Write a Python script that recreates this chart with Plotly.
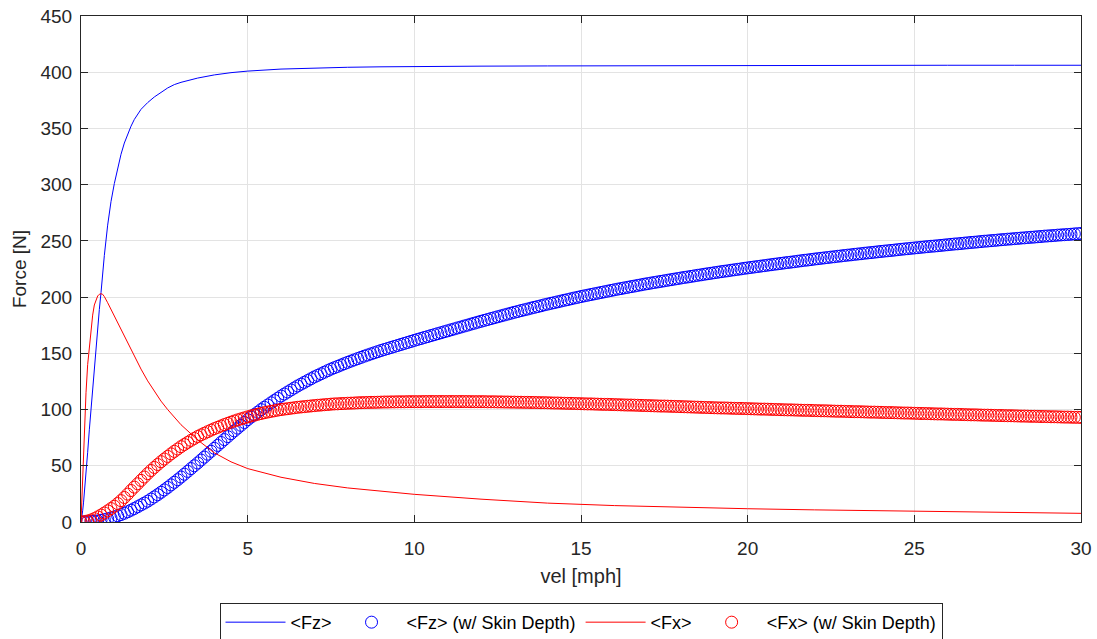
import plotly.graph_objects as go

# ---- data ----
# smooth model curves (no skin depth)
vel_line = [0, 0.025, 0.05, 0.075, 0.1, 0.15, 0.2, 0.25, 0.3, 0.35, 0.4, 0.45, 0.5, 0.55, 0.6, 0.65,
            0.7, 0.8, 0.9, 1.0, 1.1, 1.2, 1.3, 1.4, 1.5, 1.6, 1.8, 2.0, 2.2, 2.4, 2.6, 2.8, 3.0,
            3.5, 4.0, 4.5, 5.0, 6.0, 7.0, 8.0, 9.0, 10.0, 12.0, 14.0, 16.0, 18.0, 20.0, 22.0,
            24.0, 26.0, 28.0, 30.0]
fz_line = [0, 4, 10, 17, 25, 42, 62, 82, 101, 120, 139, 156, 173, 189, 204, 221,
           237, 264, 285, 301, 315, 327, 337, 345, 352, 358, 367, 373, 378, 382, 386, 389, 391,
           394.8, 397.6, 399.6, 401.0, 402.8, 403.8, 404.4, 404.8, 405.1, 405.4, 405.6, 405.8, 405.9, 406.0, 406.1,
           406.1, 406.2, 406.2, 406.2]
fx_line = [0, 22, 40, 60, 80, 115, 140, 157, 172, 184, 193, 198, 201, 202.5, 203, 202.5,
           200.5, 195, 189, 183, 177, 171, 165, 159, 153, 147, 136, 125.5, 116, 107.5, 100, 93, 86.5,
           73, 61.5, 53.5, 47.5, 39.8, 34.3, 30.3, 27.2, 24.6, 20.3, 16.8, 14.6, 13.0, 11.8, 10.8,
           9.9, 9.1, 8.4, 7.7]

# skin-depth results, sampled every 0.1 mph from 0 to 30
vel_sd = [round(i * 0.1, 1) for i in range(301)]
fz_sd = [
    0, 0.1, 0.2, 0.4, 0.7, 1.0,
    1.5, 2.1, 2.8, 3.6, 4.5,
    5.5, 6.6, 7.8, 9.1, 10.5,
    12.0, 13.6, 15.2, 16.8, 18.5,
    20.4, 22.3, 24.3, 26.4, 28.5,
    30.7, 33.0, 35.3, 37.6, 40.0,
    42.5, 45.0, 47.5, 50.0, 52.5,
    55.1, 57.7, 60.3, 62.9, 65.5,
    68.1, 70.7, 73.3, 75.9, 78.5,
    81.0, 83.5, 86.0, 88.5, 91.0,
    93.3, 95.5, 97.7, 99.9, 102.0,
    104.0, 106.0, 108.0, 110.0, 112.0,
    113.8, 115.6, 117.4, 119.2, 121.0,
    122.6, 124.2, 125.8, 127.4, 129.0,
    130.4, 131.8, 133.2, 134.6, 136.0,
    137.2, 138.4, 139.6, 140.8, 142.0,
    143.1, 144.2, 145.3, 146.4, 147.5,
    148.5, 149.5, 150.5, 151.5, 152.5,
    153.4, 154.3, 155.2, 156.1, 157.0,
    157.9, 158.8, 159.7, 160.6, 161.5,
    162.4, 163.2, 164.1, 164.9, 165.8, 166.6, 167.5, 168.3, 169.2, 170.0,
    170.9, 171.7, 172.6, 173.4, 174.3, 175.1, 176.0, 176.8, 177.7, 178.5,
    179.3, 180.1, 180.9, 181.7, 182.5, 183.3, 184.1, 184.9, 185.7, 186.5,
    187.2, 188.0, 188.7, 189.4, 190.2, 190.9, 191.6, 192.3, 193.1, 193.8,
    194.5, 195.1, 195.8, 196.5, 197.2, 197.8, 198.5, 199.2, 199.8, 200.5,
    201.1, 201.7, 202.3, 202.9, 203.5, 204.1, 204.7, 205.3, 205.9, 206.5,
    207.1, 207.6, 208.2, 208.7, 209.3, 209.8, 210.4, 210.9, 211.5, 212.0,
    212.5, 213.0, 213.5, 214.0, 214.5, 215.0, 215.5, 216.0, 216.5, 217.0,
    217.5, 217.9, 218.4, 218.9, 219.4, 219.8, 220.3, 220.8, 221.2, 221.7,
    222.1, 222.6, 223.0, 223.4, 223.9, 224.3, 224.7, 225.1, 225.6, 226.0,
    226.4, 226.8, 227.2, 227.6, 228.0, 228.4, 228.8, 229.2, 229.6, 230.0,
    230.4, 230.8, 231.1, 231.5, 231.9, 232.3, 232.7, 233.0, 233.4, 233.8,
    234.2, 234.5, 234.9, 235.2, 235.6, 235.9, 236.3, 236.6, 237.0, 237.3,
    237.6, 238.0, 238.3, 238.6, 239.0, 239.3, 239.6, 239.9, 240.3, 240.6,
    240.9, 241.2, 241.5, 241.8, 242.2, 242.5, 242.8, 243.1, 243.4, 243.7,
    244.0, 244.3, 244.6, 244.9, 245.2, 245.4, 245.7, 246.0, 246.3, 246.6,
    246.9, 247.2, 247.4, 247.7, 248.0, 248.3, 248.6, 248.8, 249.1, 249.4,
    249.7, 249.9, 250.2, 250.4, 250.7, 251.0, 251.2, 251.5, 251.7, 252.0,
    252.2, 252.5, 252.7, 253.0, 253.2, 253.4, 253.7, 253.9, 254.2, 254.4,
    254.6, 254.8, 255.1, 255.3, 255.5, 255.7, 255.9, 256.2, 256.4, 256.6,
]
fx_sd = [
    0, 0.3, 0.9, 1.8, 3.0, 4.5,
    6.2, 8.0, 9.9, 11.9, 14.0,
    16.4, 19.0, 21.8, 24.8, 28.0,
    31.0, 34.0, 37.0, 40.0, 43.0,
    45.8, 48.5, 51.1, 53.6, 56.0,
    58.3, 60.6, 62.8, 64.9, 67.0,
    68.9, 70.8, 72.6, 74.3, 76.0,
    77.5, 78.9, 80.3, 81.7, 83.0,
    84.2, 85.4, 86.6, 87.7, 88.8,
    89.8, 90.8, 91.7, 92.6, 93.5,
    94.3, 95.0, 95.8, 96.5, 97.2,
    97.8, 98.4, 98.9, 99.5, 100.0,
    100.4, 100.8, 101.2, 101.6, 102.0,
    102.3, 102.6, 102.9, 103.2, 103.5,
    103.8, 104.0, 104.3, 104.5, 104.8,
    105.0, 105.1, 105.3, 105.4, 105.6,
    105.7, 105.8, 106.0, 106.1, 106.2,
    106.3, 106.4, 106.4, 106.5, 106.6,
    106.7, 106.7, 106.8, 106.8, 106.9,
    106.9, 106.9, 107.0, 107.0, 107.0,
    107.0, 107.0, 107.1, 107.1, 107.1, 107.1, 107.1, 107.1, 107.1, 107.1,
    107.1, 107.1, 107.1, 107.1, 107.1, 107.1, 107.0, 107.0, 107.0, 107.0,
    107.0, 106.9, 106.9, 106.9, 106.8, 106.8, 106.7, 106.7, 106.6, 106.6,
    106.5, 106.5, 106.4, 106.4, 106.3, 106.3, 106.2, 106.1, 106.1, 106.0,
    105.9, 105.8, 105.8, 105.7, 105.6, 105.5, 105.5, 105.4, 105.3, 105.2,
    105.1, 105.0, 105.0, 104.9, 104.8, 104.7, 104.6, 104.6, 104.5, 104.4,
    104.3, 104.2, 104.1, 104.0, 104.0, 103.9, 103.8, 103.7, 103.6, 103.5,
    103.4, 103.3, 103.2, 103.1, 103.1, 103.0, 102.9, 102.8, 102.7, 102.6,
    102.5, 102.4, 102.3, 102.2, 102.1, 102.0, 101.9, 101.8, 101.7, 101.6,
    101.5, 101.4, 101.4, 101.3, 101.2, 101.1, 101.0, 101.0, 100.9, 100.8,
    100.7, 100.6, 100.5, 100.4, 100.4, 100.3, 100.2, 100.1, 100.0, 99.9,
    99.8, 99.7, 99.7, 99.6, 99.5, 99.4, 99.3, 99.3, 99.2, 99.1,
    99.0, 98.9, 98.9, 98.8, 98.7, 98.6, 98.5, 98.5, 98.4, 98.3,
    98.2, 98.1, 98.1, 98.0, 97.9, 97.8, 97.7, 97.7, 97.6, 97.5,
    97.4, 97.3, 97.3, 97.2, 97.1, 97.0, 96.9, 96.9, 96.8, 96.7,
    96.6, 96.5, 96.5, 96.4, 96.3, 96.2, 96.1, 96.1, 96.0, 95.9,
    95.8, 95.7, 95.7, 95.6, 95.5, 95.4, 95.3, 95.3, 95.2, 95.1,
    95.0, 95.0, 94.9, 94.8, 94.7, 94.7, 94.6, 94.5, 94.5, 94.4,
    94.3, 94.2, 94.2, 94.1, 94.0, 94.0, 93.9, 93.8, 93.8, 93.7,
    93.6, 93.6, 93.5, 93.4, 93.3, 93.3, 93.2, 93.1, 93.1, 93.0,
]

x_ticks = [0, 5, 10, 15, 20, 25, 30]
y_ticks = [0, 50, 100, 150, 200, 250, 300, 350, 400, 450]
names = ["&lt;Fz&gt;", "&lt;Fz&gt; (w/ Skin Depth)", "&lt;Fx&gt;", "&lt;Fx&gt; (w/ Skin Depth)"]

BLUE = "#0000FF"
RED = "#FF0000"
AXC = "#262626"
FONT = "Liberation Sans, Arial, sans-serif"

fig = go.Figure()
fig.add_trace(go.Scatter(x=vel_line, y=fz_line, mode="lines", name=names[0],
                         line=dict(color=BLUE, width=1)))
fig.add_trace(go.Scatter(x=vel_sd, y=fz_sd, mode="markers", name=names[1],
                         marker=dict(symbol="circle-open", size=12, color=BLUE,
                                     line=dict(width=1, color=BLUE))))
fig.add_trace(go.Scatter(x=vel_line, y=fx_line, mode="lines", name=names[2],
                         line=dict(color=RED, width=1)))
fig.add_trace(go.Scatter(x=vel_sd, y=fx_sd, mode="markers", name=names[3],
                         marker=dict(symbol="circle-open", size=12, color=RED,
                                     line=dict(width=1, color=RED))))

axis_common = dict(showline=True, linecolor=AXC, linewidth=1, mirror="ticks",
                   ticks="inside", ticklen=7, tickcolor=AXC, tickwidth=1,
                   showgrid=True, gridcolor="#E3E3E3", gridwidth=1, zeroline=False,
                   tickfont=dict(family=FONT, size=19, color=AXC))

fig.update_xaxes(range=[0, 30], tickvals=x_ticks, ticktext=[str(v) for v in x_ticks],
                 ticklabelstandoff=9,
                 title=dict(text="vel [mph]", standoff=11,
                            font=dict(family=FONT, size=20, color=AXC)),
                 **axis_common)
fig.update_yaxes(range=[0, 450], tickvals=y_ticks, ticktext=[str(v) for v in y_ticks],
                 ticklabelstandoff=4,
                 title=dict(text="Force [N]", standoff=8,
                            font=dict(family=FONT, size=19, color=AXC)),
                 **axis_common)

fig.update_layout(
    width=1097, height=639,
    margin=dict(l=81, r=16, t=16, b=117, autoexpand=False),
    paper_bgcolor="white", plot_bgcolor="white",
    font=dict(family=FONT, color=AXC),
    showlegend=True,
    legend=dict(orientation="h", x=0.5, xanchor="center", y=-0.160, yanchor="top",
                bordercolor=AXC, borderwidth=1, bgcolor="white",
                font=dict(family=FONT, size=18, color="black"),
                itemwidth=60, itemsizing="trace", tracegroupgap=0),
)

fig.write_html("out.html")
